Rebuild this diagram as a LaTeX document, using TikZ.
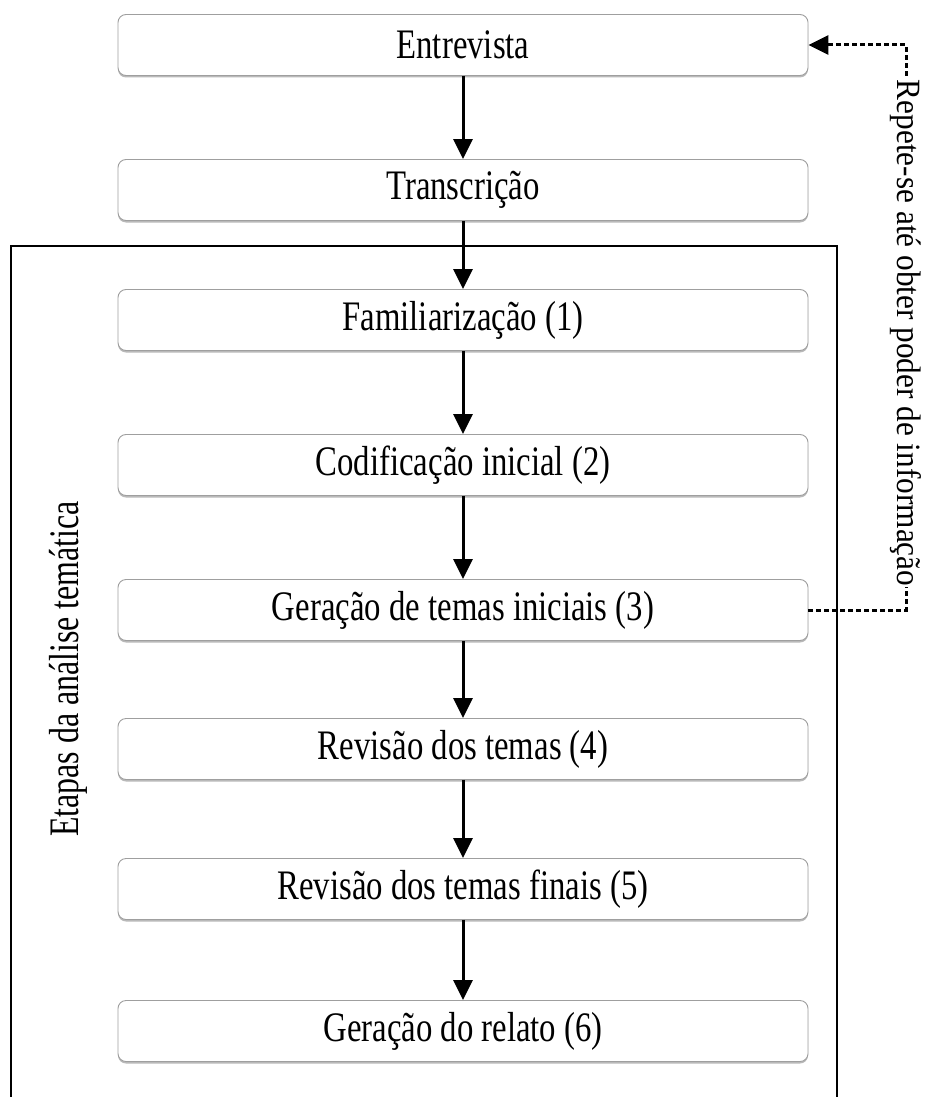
\documentclass[tikz,border=0pt]{standalone}
\usepackage{fontspec}
\setmainfont{Liberation Serif}[FakeStretch=0.78]
\newfontfamily\sidefont{Liberation Serif}[FakeStretch=0.76]
\newfontfamily\loopfont{Liberation Serif}[FakeStretch=0.92]
\usetikzlibrary{arrows.meta, shadows}

\begin{document}
\begin{tikzpicture}[x=1pt, y=-1pt,
    stage/.style={draw=gray!75, line width=0.9pt, rounded corners=8pt, fill=white,
        minimum width=690pt, minimum height=61pt, inner sep=0pt,
        drop shadow={shadow xshift=0pt, shadow yshift=-2pt, fill=gray!55, opacity=1},
        font=\fontsize{42}{50}\selectfont},
    flow/.style={line width=3pt, -{Triangle[length=20pt, width=19pt]}},
    feedback/.style={line width=3pt, dash pattern=on 5pt off 3pt, -{Triangle[length=20pt, width=19pt]}},
    frame/.style={line width=2pt},
    sidelabel/.style={font=\sidefont\fontsize{42}{50}\selectfont, inner sep=2pt},
    looplabel/.style={font=\loopfont\fontsize{34}{40}\selectfont, inner sep=1pt, fill=white}]
    \useasboundingbox (0,0) rectangle (924,1097);

    % The frame round the stages
    \draw[frame] (11,1120) -- (11,246) -- (837,246) -- (837,1120);

    % Define the boxes
    \node[stage] (ent) at (463,45) {Entrevista};
    \node[stage] (tra) at (463,190) {Transcrição};
    \node[stage] (fam) at (463,320) {Familiarização (1)};
    \node[stage] (cod) at (463,465) {Codificação inicial (2)};
    \node[stage] (ger) at (463,610) {Geração de temas iniciais (3)};
    \node[stage] (rev) at (463,749) {Revisão dos temas (4)};
    \node[stage] (fin) at (463,889) {Revisão dos temas finais (5)};
    \node[stage] (rel) at (463,1031) {Geração do relato (6)};

    % Side label
    \node[sidelabel, rotate=90] (etapas) at (68,669) {Etapas da análise temática};

    % Draw the arrows
    \draw[flow] (ent) -- (tra);
    \draw[flow] (tra) -- (fam);
    \draw[flow] (fam) -- (cod);
    \draw[flow] (cod) -- (ger);
    \draw[flow] (ger) -- (rev);
    \draw[flow] (rev) -- (fin);
    \draw[flow] (fin) -- (rel);

    % The loop back
    \coordinate (c1) at (906,610);
    \coordinate (c2) at (906,45);
    \draw[feedback] (ger.east) -- (c1) -- node[looplabel, pos=0.49, rotate=-90] (rep) {Repete-se até obter poder de informação} (c2) -- (ent.east);
\end{tikzpicture}
\end{document}
